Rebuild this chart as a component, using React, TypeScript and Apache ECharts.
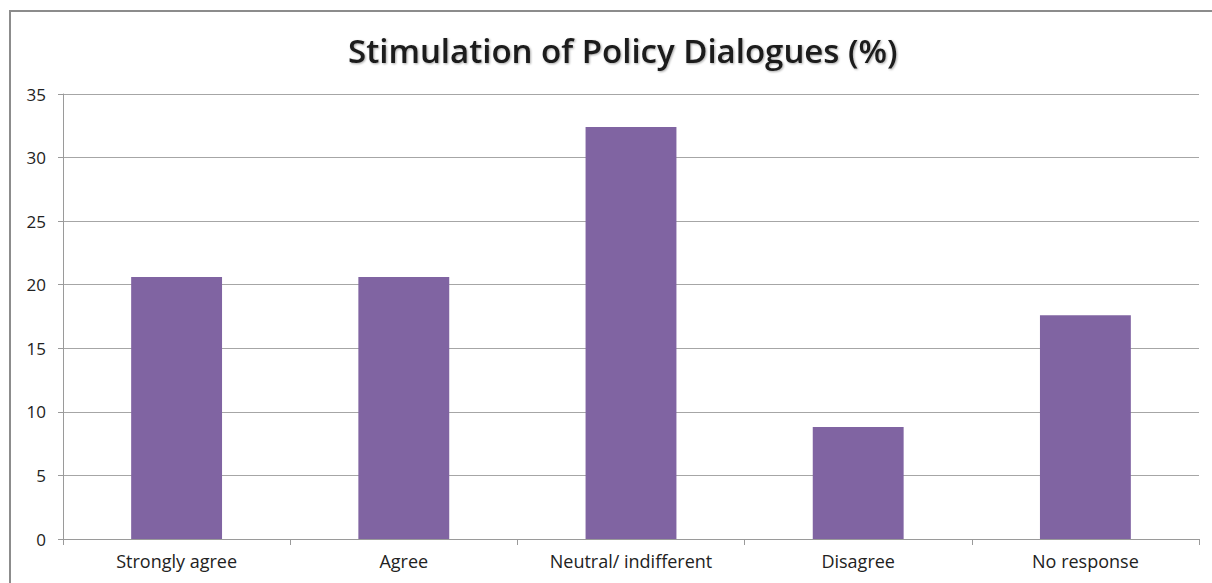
import React, { useEffect, useRef } from "react";
import * as echarts from "echarts";

const categories = ["Strongly agree", "Agree", "Neutral/ indifferent", "Disagree", "No response"];
const values = [20.6, 20.6, 32.4, 8.8, 17.6];
const yTicks = { min: 0, max: 35, interval: 5 };
const titleText = "Stimulation of Policy Dialogues (%)";

export default function App() {
  const ref = useRef<HTMLDivElement>(null);
  useEffect(() => {
    const chart = echarts.init(ref.current!, null, { renderer: "svg" });
    chart.setOption({
      animation: false,
      backgroundColor: "#ffffff",
      title: {
        text: titleText,
        left: 343,
        top: 29,
        textStyle: {
          fontFamily: "Open Sans",
          fontWeight: 600,
          fontSize: 33,
          color: "#1a1a1a",
          textShadowColor: "rgba(0,0,0,0.35)",
          textShadowBlur: 2,
          textShadowOffsetX: 1,
          textShadowOffsetY: 1,
        },
      },
      graphic: [
        {
          type: "rect",
          shape: { x: 10, y: 11, width: 1300, height: 700 },
          style: { fill: "none", stroke: "#8c8c8c", lineWidth: 2 },
          silent: true,
        },
      ],
      grid: { left: 63, right: 13, top: 94, bottom: 44 },
      xAxis: {
        type: "category",
        data: categories,
        axisLine: { show: true, lineStyle: { color: "#9a9a9a", width: 1 } },
        axisTick: { show: true, length: 6, lineStyle: { color: "#9a9a9a" } },
        axisLabel: { fontFamily: "Open Sans", fontSize: 18, color: "#222", margin: 13 },
      },
      yAxis: {
        type: "value",
        min: yTicks.min,
        max: yTicks.max,
        interval: yTicks.interval,
        axisLine: { show: true, lineStyle: { color: "#9a9a9a", width: 1 } },
        axisTick: { show: true, length: 5, lineStyle: { color: "#9a9a9a" } },
        axisLabel: { fontFamily: "Open Sans", fontSize: 17, color: "#222", margin: 17 },
        splitLine: { show: true, lineStyle: { color: "#a6a6a6", width: 1 } },
      },
      series: [
        {
          type: "bar",
          data: values,
          barWidth: "40%",
          itemStyle: { color: "#8064a2" },
        },
      ],
    });
    return () => chart.dispose();
  }, []);
  return (
    <div
      ref={ref}
      style={{ position: "fixed", left: 0, top: 0, width: 1212, height: 583 }}
    />
  );
}
